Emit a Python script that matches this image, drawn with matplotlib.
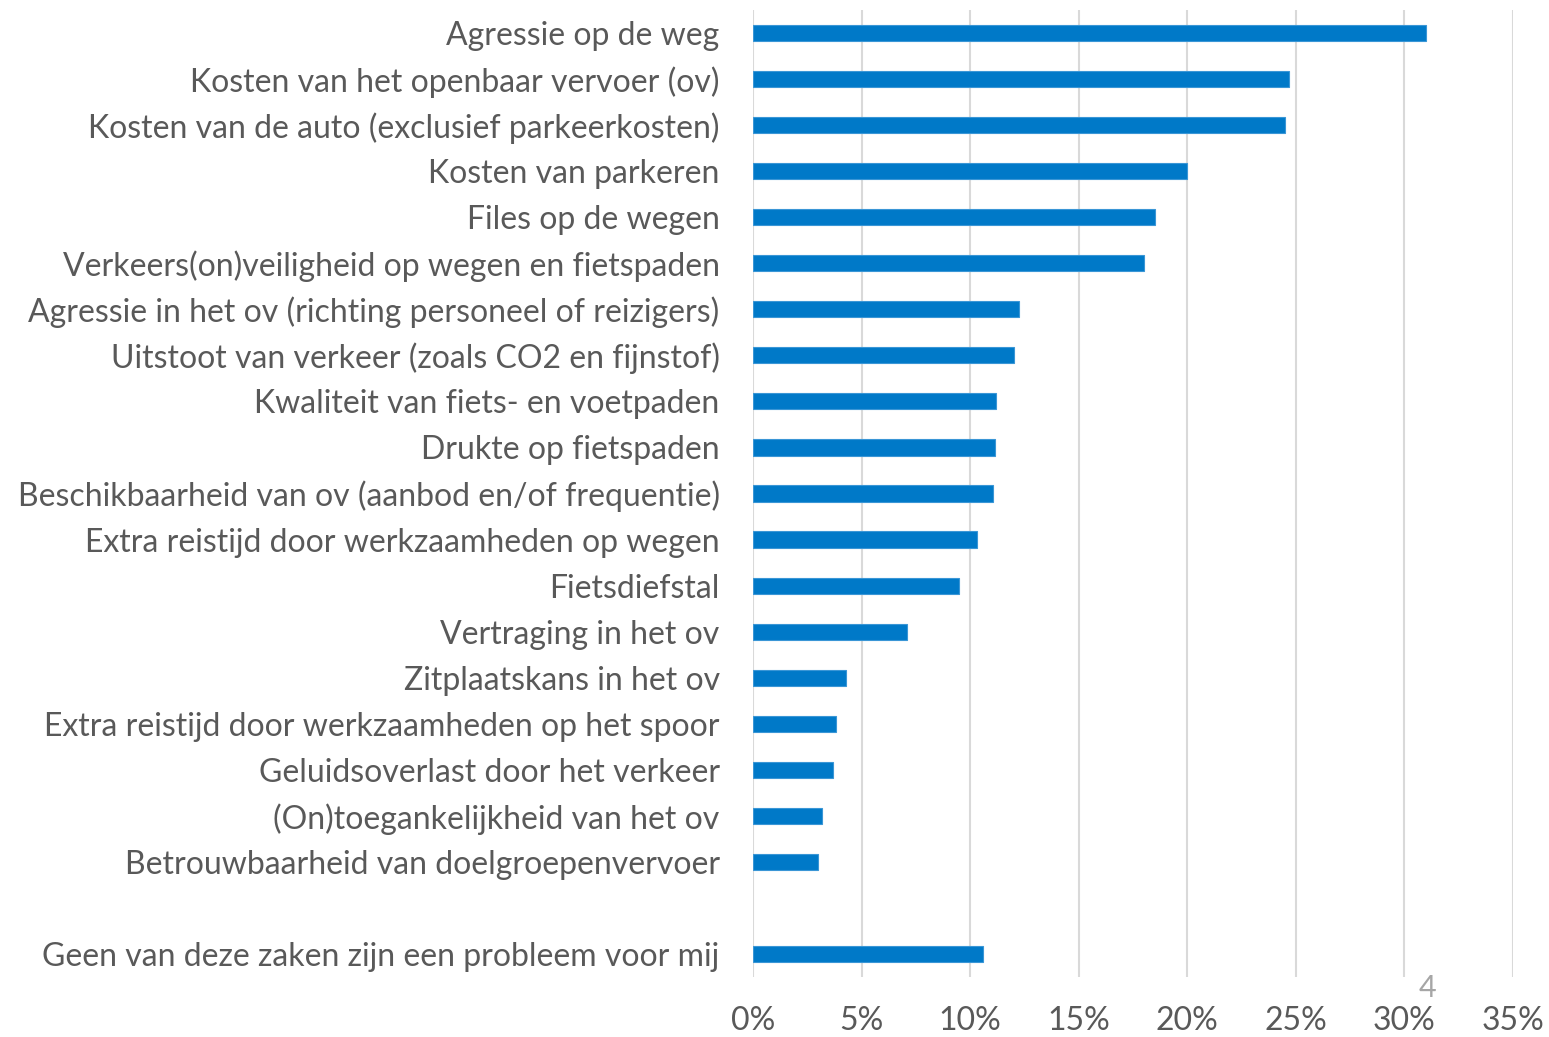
import matplotlib
matplotlib.use("Agg")
import matplotlib.pyplot as plt
from matplotlib.ticker import FuncFormatter

categories = [
    "Agressie op de weg",
    "Kosten van het openbaar vervoer (ov)",
    "Kosten van de auto (exclusief parkeerkosten)",
    "Kosten van parkeren",
    "Files op de wegen",
    "Verkeers(on)veiligheid op wegen en fietspaden",
    "Agressie in het ov (richting personeel of reizigers)",
    "Uitstoot van verkeer (zoals CO2 en fijnstof)",
    "Kwaliteit van fiets- en voetpaden",
    "Drukte op fietspaden",
    "Beschikbaarheid van ov (aanbod en/of frequentie)",
    "Extra reistijd door werkzaamheden op wegen",
    "Fietsdiefstal",
    "Vertraging in het ov",
    "Zitplaatskans in het ov",
    "Extra reistijd door werkzaamheden op het spoor",
    "Geluidsoverlast door het verkeer",
    "(On)toegankelijkheid van het ov",
    "Betrouwbaarheid van doelgroepenvervoer",
    "",
    "Geen van deze zaken zijn een probleem voor mij",
]
values = [31.0, 24.7, 24.5, 20.0, 18.5, 18.0, 12.25, 12.0, 11.2, 11.15,
          11.05, 10.3, 9.5, 7.1, 4.3, 3.8, 3.7, 3.2, 3.0, None, 10.6]
xticks = [0, 5, 10, 15, 20, 25, 30, 35]

plt.rcParams['font.family'] = ['Lato', 'DejaVu Sans']
fig = plt.figure(figsize=(15.49, 10.37), dpi=100)
ax = fig.add_axes([753/1549, 1-977/1037, (1513-753)/1549, (977-10)/1037])

ypos = list(range(len(categories)))
for y, v in zip(ypos, values):
    if v is not None:
        ax.barh(y, v, height=0.35, color="#0079C8", edgecolor="#3A96D6", linewidth=0.8, zorder=3)

ax.set_yticks(ypos)
ax.set_yticklabels(categories, fontsize=23, color="#595959")
ax.set_ylim(len(categories)-0.5, -0.5)
ax.set_xlim(0, 35)
ax.set_xticks(xticks)
ax.xaxis.set_major_formatter(FuncFormatter(lambda v, p: f"{int(v)}%"))
ax.tick_params(axis='x', labelsize=23, colors="#595959", length=0, pad=21)
ax.tick_params(axis='y', length=0, pad=24)
ax.grid(axis='x', color="#D9D9D9", linewidth=1.5, zorder=0)
for s in ax.spines.values():
    s.set_visible(False)

fig.text(1427/1549, 1-988/1037, "4", fontsize=22, color="#A6A6A6", ha="center", va="center")

fig.savefig("out.png", dpi=100)
